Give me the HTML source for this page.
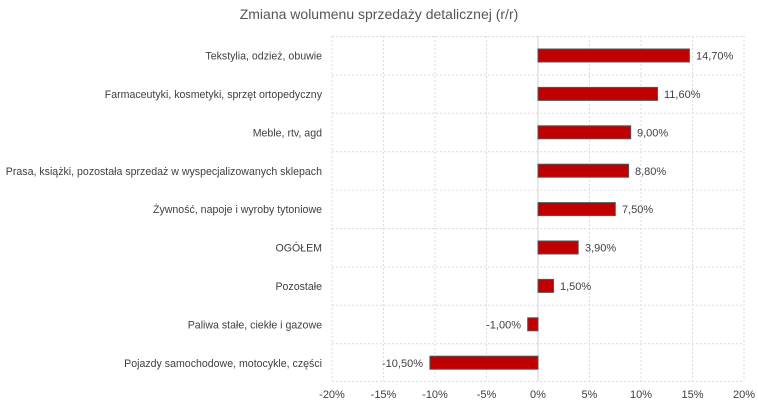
<!DOCTYPE html>
<html><head><meta charset="utf-8"><style>body{margin:0;background:#fff}svg{display:block;font-family:"Liberation Sans",Arial,sans-serif}</style></head><body>
<svg width="758" height="411" viewBox="0 0 758 411" xmlns="http://www.w3.org/2000/svg">
<text x="379" y="19" font-size="14" fill="#555" text-anchor="middle">Zmiana wolumenu sprzedaży detalicznej (r/r)</text>
<g stroke="#dcdcdc" stroke-width="1" stroke-dasharray="2,2">
<line x1="332" y1="36" x2="332" y2="381"/><line x1="383.5" y1="36" x2="383.5" y2="381"/><line x1="435" y1="36" x2="435" y2="381"/><line x1="486.5" y1="36" x2="486.5" y2="381"/><line x1="589.5" y1="36" x2="589.5" y2="381"/><line x1="641" y1="36" x2="641" y2="381"/><line x1="692.5" y1="36" x2="692.5" y2="381"/><line x1="744" y1="36" x2="744" y2="381"/>
<line x1="332" y1="36.5" x2="744" y2="36.5"/><line x1="332" y1="74.9" x2="744" y2="74.9"/><line x1="332" y1="113.3" x2="744" y2="113.3"/><line x1="332" y1="151.7" x2="744" y2="151.7"/><line x1="332" y1="190.1" x2="744" y2="190.1"/><line x1="332" y1="228.5" x2="744" y2="228.5"/><line x1="332" y1="266.9" x2="744" y2="266.9"/><line x1="332" y1="305.3" x2="744" y2="305.3"/><line x1="332" y1="343.7" x2="744" y2="343.7"/><line x1="332" y1="381.5" x2="744" y2="381.5"/>
</g>
<line x1="538" y1="36" x2="538" y2="381" stroke="#d0d0d0"/>
<g fill="#c00000" stroke="#555" stroke-width="1">
<rect x="538" y="49" width="151.4" height="13"/>
<rect x="538" y="87.4" width="119.5" height="13"/>
<rect x="538" y="125.8" width="92.7" height="13"/>
<rect x="538" y="164.2" width="90.6" height="13"/>
<rect x="538" y="202.6" width="77.3" height="13"/>
<rect x="538" y="241" width="40.2" height="13"/>
<rect x="538" y="279.4" width="15.5" height="13"/>
<rect x="527.7" y="317.8" width="10.3" height="13"/>
<rect x="429.9" y="356.2" width="108.1" height="13"/>
</g>
<g font-size="11" fill="#404040">
<text x="696" y="59.5">14,70%</text>
<text x="664" y="98">11,60%</text>
<text x="637" y="136.5">9,00%</text>
<text x="635" y="175">8,80%</text>
<text x="622" y="213">7,50%</text>
<text x="585" y="251.5">3,90%</text>
<text x="560" y="290">1,50%</text>
<text x="521" y="328.5" text-anchor="end">-1,00%</text>
<text x="423" y="367" text-anchor="end">-10,50%</text>
</g>
<g font-size="10.6" fill="#404040" text-anchor="end">
<text x="322" y="59.5">Tekstylia, odzież, obuwie</text>
<text x="322" y="98">Farmaceutyki, kosmetyki, sprzęt ortopedyczny</text>
<text x="322" y="136.5">Meble, rtv, agd</text>
<text x="322" y="175">Prasa, książki, pozostała sprzedaż w wyspecjalizowanych sklepach</text>
<text x="322" y="213">Żywność, napoje i wyroby tytoniowe</text>
<text x="322" y="251.5">OGÓŁEM</text>
<text x="322" y="290">Pozostałe</text>
<text x="322" y="328.5">Paliwa stałe, ciekłe i gazowe</text>
<text x="322" y="367">Pojazdy samochodowe, motocykle, części</text>
</g>
<g font-size="11" fill="#404040" text-anchor="middle">
<text x="332" y="398">-20%</text><text x="383.5" y="398">-15%</text><text x="435" y="398">-10%</text><text x="486.5" y="398">-5%</text><text x="538" y="398">0%</text><text x="589.5" y="398">5%</text><text x="641" y="398">10%</text><text x="692.5" y="398">15%</text><text x="744" y="398">20%</text>
</g>
</svg>
</body></html>
